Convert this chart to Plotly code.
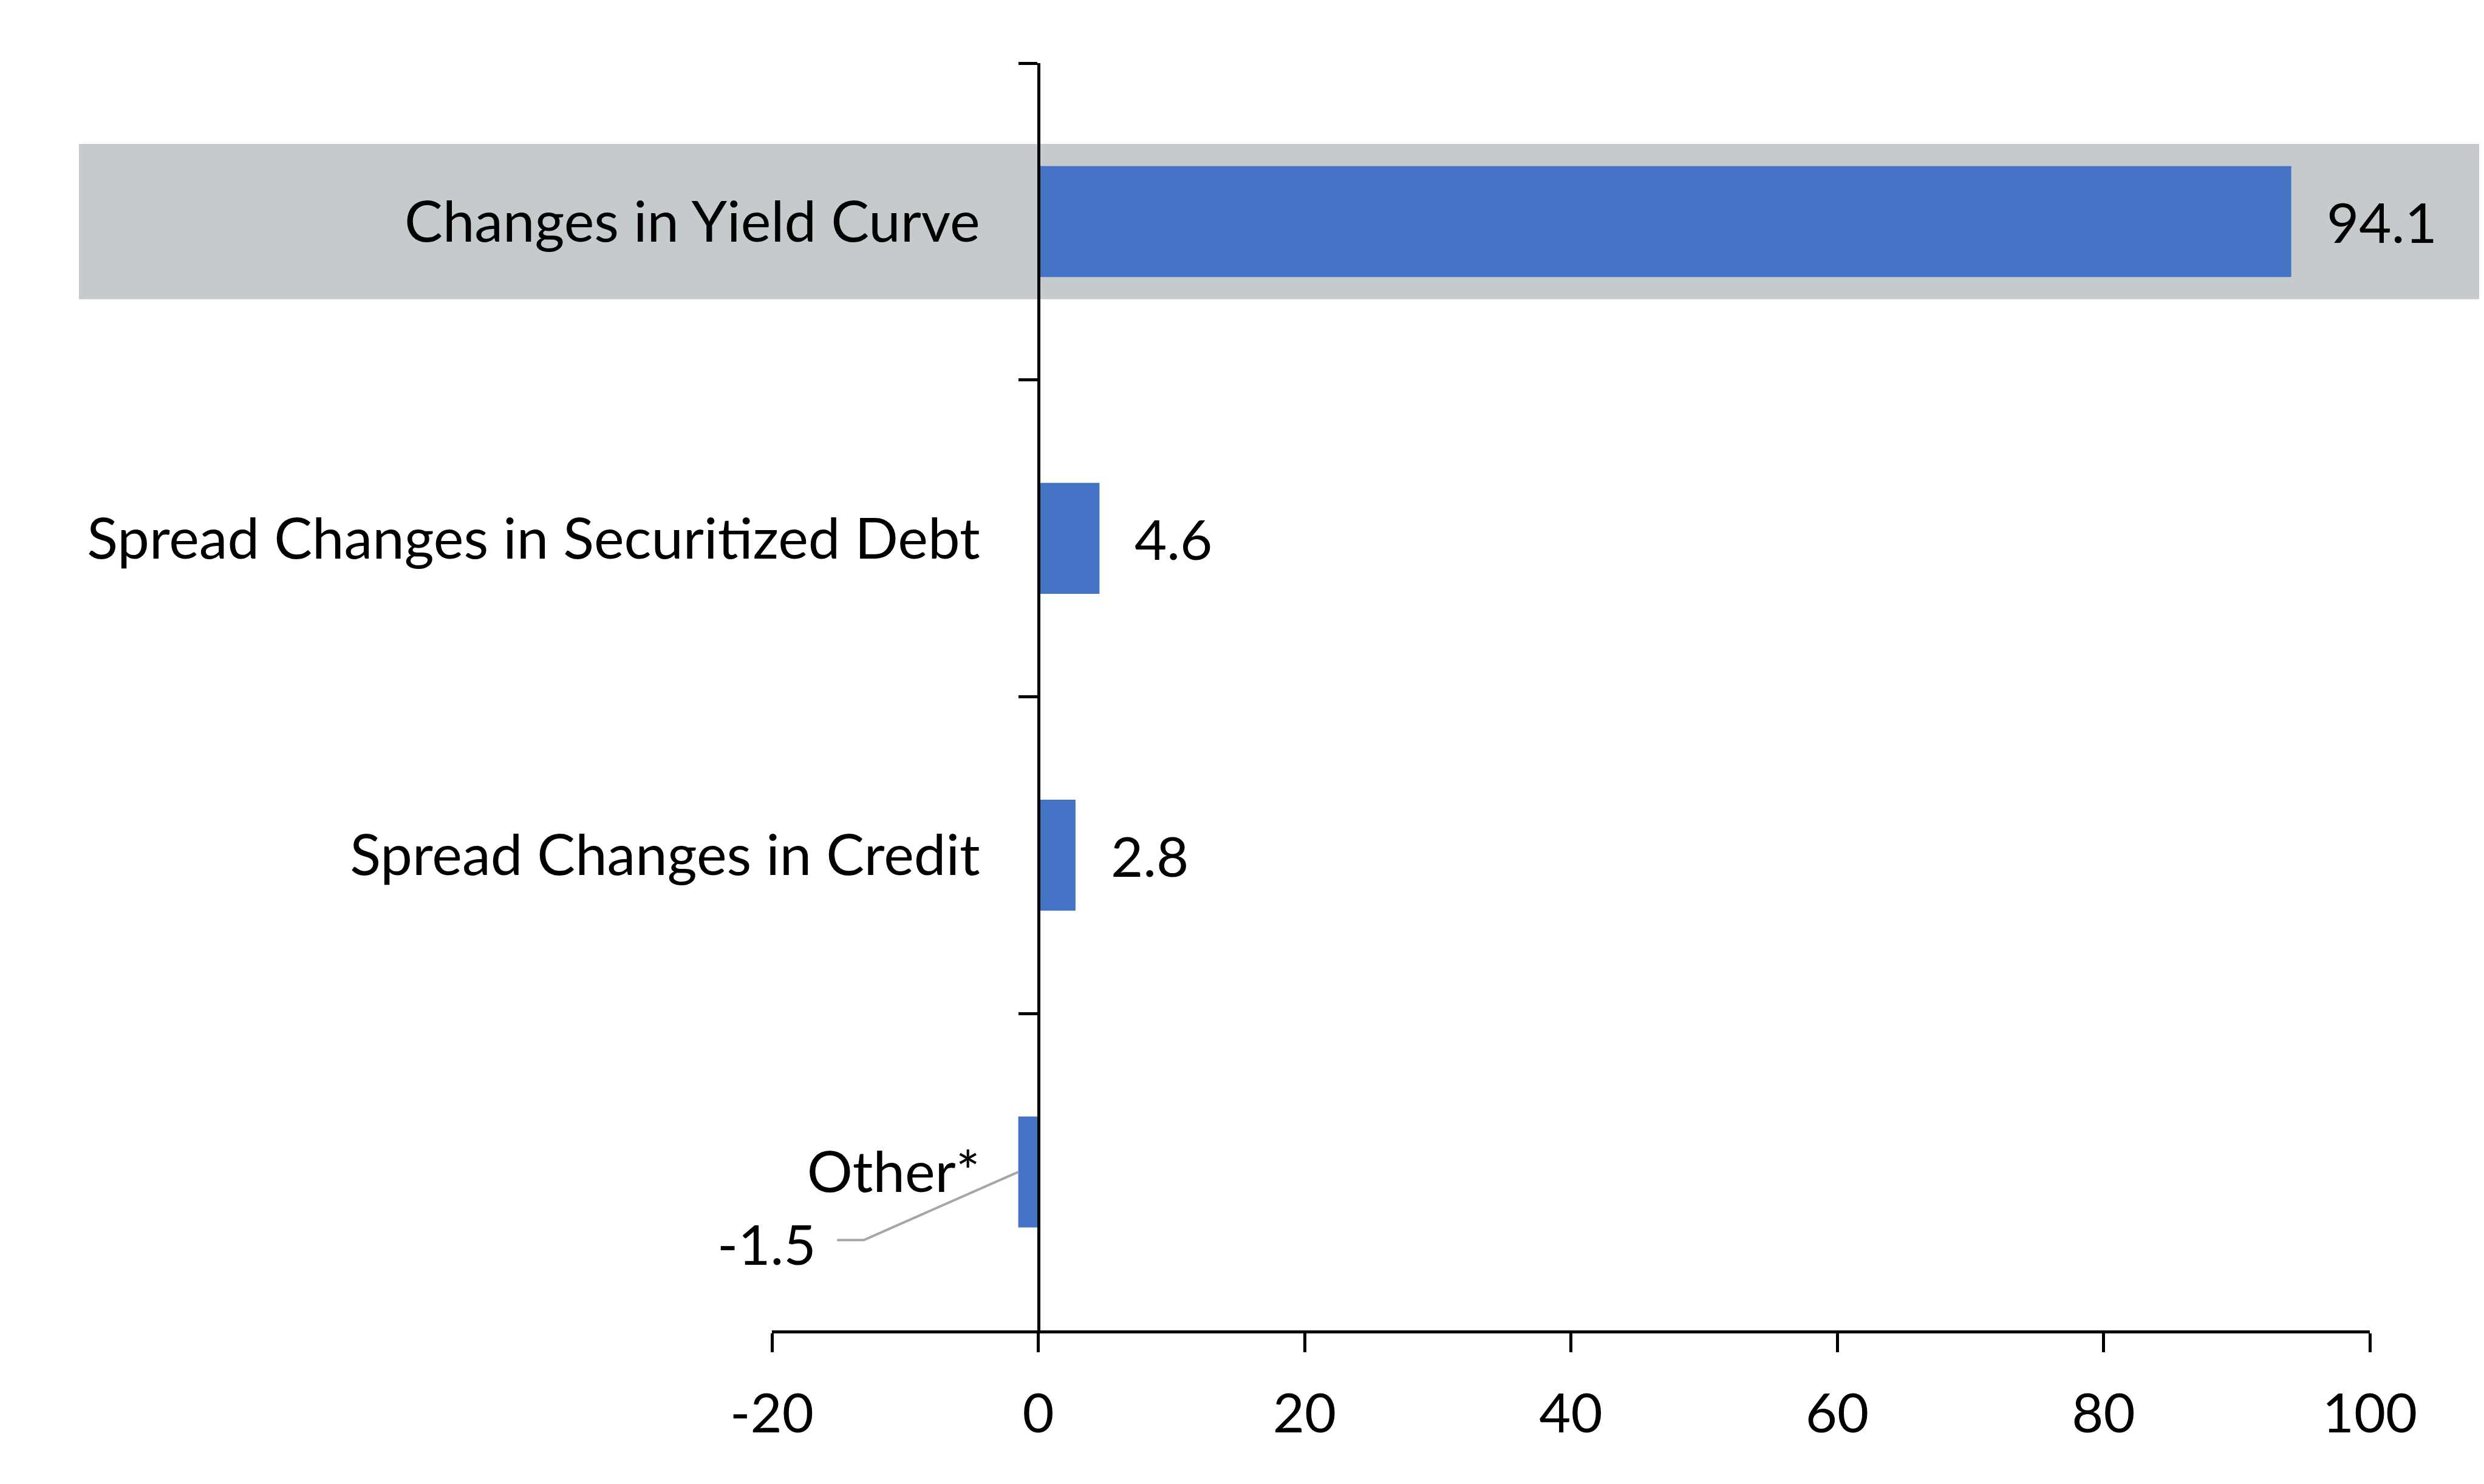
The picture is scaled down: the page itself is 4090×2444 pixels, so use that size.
import plotly.graph_objects as go

categories = ["Changes in Yield Curve", "Spread Changes in Securitized Debt",
              "Spread Changes in Credit", "Other*"]
values = [94.1, 4.6, 2.8, -1.5]
value_labels = ["94.1", "4.6", "2.8", "-1.5"]
x_ticks = [-20, 0, 20, 40, 60, 80, 100]

highlight_index = 0
BAR_COLOR = "#4472C4"
BAND_COLOR = "#C5CACD"
FONT = "Lato"

# the page body has an 8px default margin, so the figure is 16px smaller
W, H = 4074, 2428

fig = go.Figure()

fig.add_trace(go.Bar(
    x=values, y=categories, orientation="h",
    marker=dict(color=BAR_COLOR, line=dict(width=0)),
    width=0.35, hoverinfo="skip", showlegend=False,
))

# leader line for the negative-value label (Excel style), on a numeric overlay axis
neg_i = 3
fig.add_trace(go.Scatter(
    x=[-15.1, -13.1, values[neg_i]],
    y=[neg_i + 0.215, neg_i + 0.215, neg_i],
    yaxis="y2",
    mode="lines", line=dict(color="#A6A6A6", width=4),
    hoverinfo="skip", showlegend=False,
))

annotations = []
for i, (v, lab) in enumerate(zip(values, value_labels)):
    if v >= 0:
        annotations.append(dict(
            x=v, y=i, xref="x", yref="y2", text=lab, showarrow=False,
            xanchor="left", yanchor="middle", xshift=56,
            font=dict(family=FONT, size=92, color="black"),
        ))
    else:
        annotations.append(dict(
            x=-16.6, y=i + 0.225, xref="x", yref="y2", text=lab, showarrow=False,
            xanchor="right", yanchor="middle",
            font=dict(family=FONT, size=92, color="black"),
        ))

shapes = [dict(
    type="rect", xref="paper", yref="y2",
    x0=-0.4337, x1=1.08,
    y0=highlight_index - 0.245, y1=highlight_index + 0.245,
    fillcolor=BAND_COLOR, line=dict(width=0), layer="below",
)]

fig.update_layout(
    width=W, height=H,
    margin=dict(l=1263, r=180, t=96, b=245),
    paper_bgcolor="white", plot_bgcolor="rgba(0,0,0,0)",
    font=dict(family=FONT, size=90, color="black"),
    annotations=annotations, shapes=shapes,
    xaxis=dict(
        range=[-20, 100], tickvals=x_ticks, ticktext=[str(t) for t in x_ticks],
        showgrid=False, zeroline=False,
        showline=True, linecolor="black", linewidth=5,
        ticks="outside", ticklen=31, tickwidth=5, tickcolor="black",
        tickfont=dict(family=FONT, size=90, color="black"),
        ticklabelstandoff=24,
    ),
    yaxis=dict(
        categoryorder="array", categoryarray=categories,
        range=[3.5, -0.5],
        anchor="free", position=(0 - (-20)) / (100 - (-20)),
        showgrid=False, zeroline=False,
        showline=True, linecolor="black", linewidth=5,
        ticks="outside", ticklen=31, tickwidth=5, tickcolor="black",
        tickson="boundaries",
        tickfont=dict(family=FONT, size=94, color="black"),
        ticklabelstandoff=75,
    ),
    yaxis2=dict(
        overlaying="y", anchor="x", range=[3.5, -0.5],
        visible=False, showgrid=False, zeroline=False,
    ),
)

fig.write_html("out.html")
